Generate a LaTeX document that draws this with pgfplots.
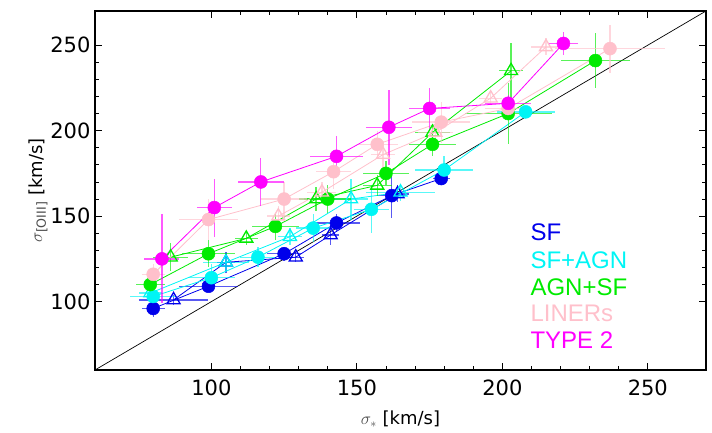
\documentclass[border=0pt]{standalone}
\usepackage{pgfplots}
\pgfplotsset{compat=1.18}
\usepackage{amsmath}
\usepackage{fontspec}
\setmainfont{DejaVu Sans}
\newfontfamily\arialf{Liberation Sans}
\definecolor{cSF}{RGB}{0,0,235}
\definecolor{cSFAGN}{RGB}{0,245,245}
\definecolor{cAGNSF}{RGB}{0,235,0}
\definecolor{cLIN}{RGB}{255,192,203}
\definecolor{cT2}{RGB}{255,0,255}
\pgfplotsset{
  ser/.style={color=#1, line width=0.8pt,
    error bars/.cd, x dir=both, y dir=both, x explicit, y explicit, error mark=none,
    error bar style={line width=1.3pt, color=#1, opacity=0.65}},
  circ/.style={mark=*, mark size=6.5pt, mark options={solid, fill=#1, draw=#1, line width=0.5pt}, ser=#1},
  tri/.style={mark=triangle, mark size=7.5pt, mark options={solid, draw=#1, fill=none, line width=1.3pt}, ser=#1},
}
\begin{document}
\begin{tikzpicture}
\begin{axis}[
  scale only axis, width=611pt, height=359pt,
  xmin=60, xmax=270, ymin=60, ymax=270,
  xtick={100,150,200,250}, ytick={100,150,200,250},
  minor x tick num=4, minor y tick num=4,
  tick align=inside,
  major tick length=7pt, minor tick length=4pt,
  axis line style={line width=1.2pt},
  every tick/.style={black, line width=0.8pt},
  /pgf/number format/assume math mode=true,
  tick label style={font=\fontsize{21}{25}\selectfont},
  xticklabel style={yshift=-6pt},
  yticklabel style={xshift=-1pt},
  xlabel={{\color{black!70}$\sigma_{*}$} [km/s]},
  ylabel={{\color{black!70}$\sigma_{\text{[OIII]}}$} [km/s]},
  label style={font=\fontsize{18}{21}\selectfont},
  xlabel style={yshift=-9pt},
  ylabel style={yshift=-4pt},
  clip=true,
]
\addplot[black, line width=0.7pt, mark=none] coordinates {(60,60) (270,270)};

% SF
\addplot[circ=cSF] table[x=x,y=y,x error=ex,y error=ey] {
x y ex ey
80 96 4 5
99 109 10 3
125 128 6 4
143 146 8 5
162 162 5 13
179 172 3 3
};
\addplot[tri=cSF] table[x=x,y=y,x error=ex,y error=ey] {
x y ex ey
87 101 12 3
105 123 3 6
129 126 3 3
141 139 3 6
164 163 4 5
};
% SF+AGN
\addplot[circ=cSFAGN] table[x=x,y=y,x error=ex,y error=ey] {
x y ex ey
80 103 8 5
100 114 8 8
116 126 6 6
135 143 6 8
155 154 6 14
180 177 10 8
208 211 10 3
};
\addplot[tri=cSFAGN] table[x=x,y=y,x error=ex,y error=ey] {
x y ex ey
79 105 4 4
105 123 8 5
127 138 4 5
148 160 6 12
165 164 12 5
};
% AGN+SF
\addplot[circ=cAGNSF] table[x=x,y=y,x error=ex,y error=ey] {
x y ex ey
79 110 5 6
99 128 9 8
122 144 8 8
140 160 8 8
160 175 8 7
176 192 8 7
202 210 15 18
232 241 12 16
};
\addplot[tri=cAGNSF] table[x=x,y=y,x error=ex,y error=ey] {
x y ex ey
86 126 6 8
112 137 4 4
136 160 6 7
157 168 5 6
176 199 6 5
203 235 4 16
};
% LINERs
\addplot[circ=cLIN] table[x=x,y=y,x error=ex,y error=ey] {
x y ex ey
80 116 4 6
99 148 10 12
125 160 8 10
142 176 6 10
157 192 7 8
179 205 10 12
202 213 8 6
237 248 19 14
};
\addplot[tri=cLIN] table[x=x,y=y,x error=ex,y error=ey] {
x y ex ey
123 150 4 6
138 164 5 6
159 186 4 8
177 199 6 5
196 219 4 4
215 249 5 5
};
% TYPE 2
\addplot[circ=cT2] table[x=x,y=y,x error=ex,y error=ey] {
x y ex ey
83 125 6 26
101 155 6 17
117 170 8 14
143 185 9 12
161 202 8 22
175 213 7 12
202 216 8 5
221 251 5 7
};

\node[anchor=west, text=cSF, font=\arialf\fontsize{24}{26}\selectfont] at (rel axis cs:0.707,0.384) {SF};
\node[anchor=west, text=cSFAGN, font=\arialf\fontsize{24}{26}\selectfont] at (rel axis cs:0.707,0.306) {SF+AGN};
\node[anchor=west, text=cAGNSF, font=\arialf\fontsize{24}{26}\selectfont] at (rel axis cs:0.707,0.231) {AGN+SF};
\node[anchor=west, text=cLIN, font=\arialf\fontsize{24}{26}\selectfont] at (rel axis cs:0.707,0.159) {LINERs};
\node[anchor=west, text=cT2, font=\arialf\fontsize{24}{26}\selectfont] at (rel axis cs:0.707,0.084) {TYPE 2};
\end{axis}
\pgfresetboundingbox
\path (-95pt,-63pt) rectangle (617pt,370pt);
\end{tikzpicture}
\end{document}
